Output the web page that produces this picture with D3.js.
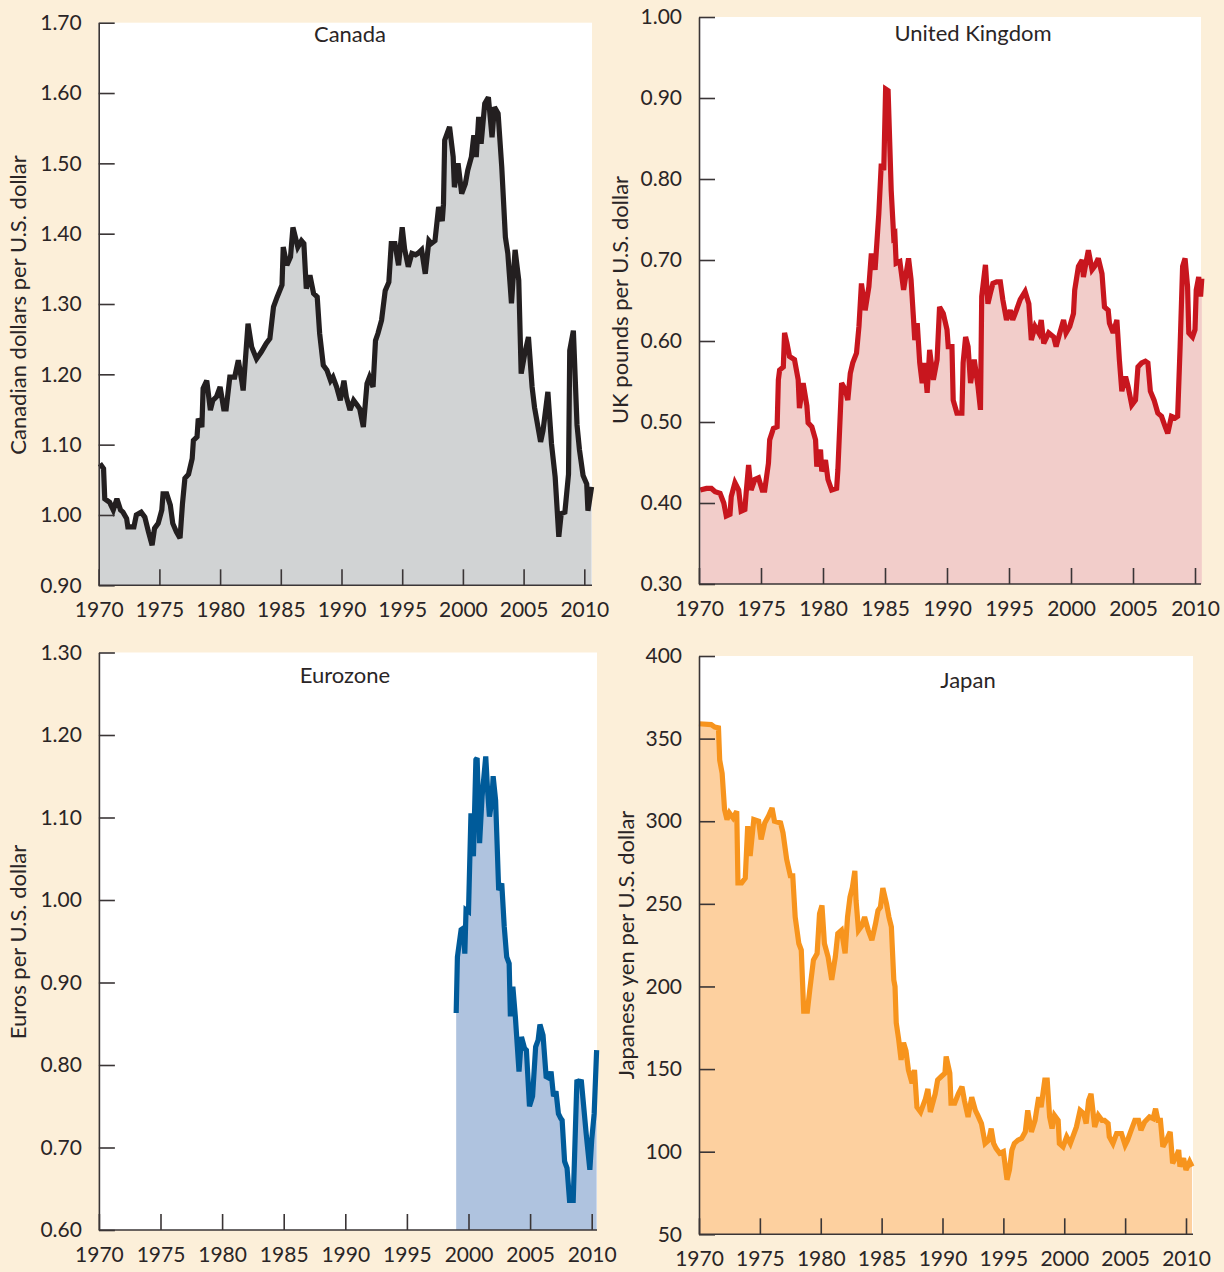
<!DOCTYPE html>
<html>
<head>
<meta charset="utf-8">
<script src="https://cdn.jsdelivr.net/npm/d3@7"></script>
<style>
  html, body { margin: 0; padding: 0; background: #fcefd9; }
  svg { display: block; }
  text { font-family: Lato, "Open Sans", sans-serif; fill: #2a2526; }
</style>
</head>
<body>
<svg id="chart" width="1224" height="1272"></svg>
<script>
// ---------------- DATA ----------------
const yearTicks = [1970, 1975, 1980, 1985, 1990, 1995, 2000, 2005, 2010];

const panelTitles = ["Canada", "United Kingdom", "Eurozone", "Japan"];
const axisTitles = [
  "Canadian dollars per U.S. dollar",
  "UK pounds per U.S. dollar",
  "Euros per U.S. dollar",
  "Japanese yen per U.S. dollar"
];

const canadaTicks = [0.90, 1.00, 1.10, 1.20, 1.30, 1.40, 1.50, 1.60, 1.70];
const ukTicks = [0.30, 0.40, 0.50, 0.60, 0.70, 0.80, 0.90, 1.00];
const euroTicks = [0.60, 0.70, 0.80, 0.90, 1.00, 1.10, 1.20, 1.30];
const japanTicks = [50, 100, 150, 200, 250, 300, 350, 400];

const canadaYears = [1970.1,1970.4,1970.5,1970.9,1971.2,1971.5,1971.8,1972.0,1972.3,1972.4,1972.9,1973.1,1973.5,1973.8,1974.1,1974.4,1974.6,1974.9,1975.2,1975.3,1975.6,1975.9,1976.1,1976.4,1976.7,1976.9,1977.1,1977.4,1977.7,1977.8,1978.1,1978.2,1978.5,1978.6,1978.9,1979.2,1979.4,1979.7,1980.0,1980.3,1980.5,1980.8,1981.2,1981.5,1981.8,1981.9,1982.3,1982.6,1983.0,1983.4,1983.8,1984.1,1984.4,1984.7,1985.1,1985.2,1985.5,1985.8,1986.0,1986.2,1986.4,1986.7,1986.9,1987.1,1987.4,1987.7,1988.0,1988.2,1988.5,1988.8,1989.1,1989.3,1989.6,1989.9,1990.2,1990.4,1990.7,1991.0,1991.3,1991.5,1991.8,1992.1,1992.3,1992.6,1992.8,1993.0,1993.3,1993.6,1993.9,1994.1,1994.4,1994.7,1995.0,1995.2,1995.5,1995.8,1996.1,1996.3,1996.6,1996.9,1997.2,1997.4,1997.7,1998.0,1998.3,1998.4,1998.5,1998.9,1999.2,1999.3,1999.6,1999.9,2000.2,2000.4,2000.7,2000.9,2001.1,2001.3,2001.5,2001.8,2002.1,2002.4,2002.6,2002.9,2003.2,2003.5,2003.7,2003.9,2004.0,2004.3,2004.6,2004.8,2005.1,2005.4,2005.7,2005.9,2006.4,2006.6,2007.0,2007.3,2007.6,2007.9,2008.1,2008.4,2008.7,2008.8,2009.1,2009.4,2009.6,2009.9,2010.2,2010.3,2010.6];
const canadaRates = [1.073,1.066,1.023,1.018,1.007,1.023,1.007,1.004,0.995,0.983,0.983,1.000,1.004,0.997,0.976,0.957,0.981,0.988,1.007,1.030,1.030,1.014,0.988,0.976,0.967,1.016,1.052,1.058,1.080,1.106,1.111,1.137,1.125,1.180,1.191,1.149,1.163,1.168,1.182,1.151,1.151,1.196,1.196,1.220,1.189,1.177,1.272,1.239,1.222,1.232,1.244,1.251,1.296,1.310,1.327,1.381,1.355,1.367,1.409,1.395,1.381,1.390,1.386,1.322,1.341,1.315,1.310,1.258,1.213,1.206,1.191,1.196,1.182,1.163,1.191,1.168,1.149,1.163,1.156,1.151,1.125,1.187,1.196,1.182,1.248,1.258,1.277,1.319,1.331,1.386,1.386,1.355,1.409,1.378,1.353,1.372,1.370,1.372,1.377,1.343,1.390,1.386,1.390,1.438,1.418,1.442,1.533,1.552,1.509,1.466,1.500,1.457,1.471,1.490,1.509,1.540,1.509,1.566,1.528,1.585,1.594,1.537,1.580,1.571,1.495,1.395,1.372,1.325,1.301,1.377,1.334,1.201,1.230,1.253,1.182,1.153,1.104,1.120,1.175,1.101,1.054,0.969,1.002,1.004,1.058,1.234,1.262,1.128,1.093,1.056,1.044,1.006,1.040];

const ukYears = [1970.1,1970.6,1971.0,1971.3,1971.7,1972.0,1972.2,1972.5,1972.6,1972.9,1973.2,1973.4,1973.7,1973.8,1974.0,1974.2,1974.5,1974.8,1975.1,1975.3,1975.6,1975.7,1976.0,1976.3,1976.4,1976.5,1976.8,1976.9,1977.1,1977.3,1977.7,1978.0,1978.1,1978.4,1978.7,1978.8,1979.1,1979.4,1979.5,1979.8,1979.9,1980.2,1980.4,1980.7,1981.1,1981.2,1981.5,1981.8,1982.0,1982.2,1982.4,1982.7,1982.9,1983.1,1983.4,1983.7,1983.9,1984.2,1984.5,1984.7,1984.9,1985.05,1985.25,1985.5,1985.7,1985.8,1985.9,1986.2,1986.5,1986.7,1986.9,1987.1,1987.3,1987.4,1987.6,1987.8,1988.0,1988.2,1988.4,1988.6,1988.9,1989.2,1989.4,1989.7,1990.0,1990.1,1990.4,1990.5,1990.8,1991.2,1991.3,1991.5,1991.7,1991.9,1992.2,1992.5,1992.7,1992.8,1993.1,1993.3,1993.5,1993.7,1994.0,1994.3,1994.5,1994.8,1995.1,1995.3,1995.6,1995.9,1996.3,1996.6,1996.8,1997.1,1997.4,1997.6,1997.8,1998.2,1998.6,1998.8,1999.1,1999.4,1999.6,1999.9,2000.2,2000.3,2000.6,2000.9,2001.0,2001.2,2001.4,2001.7,2001.9,2002.2,2002.5,2002.7,2003.0,2003.1,2003.4,2003.7,2003.9,2004.1,2004.4,2004.6,2004.9,2005.2,2005.4,2005.7,2006.0,2006.2,2006.4,2006.7,2007.0,2007.3,2007.6,2007.8,2008.1,2008.4,2008.6,2008.8,2009.0,2009.2,2009.4,2009.5,2009.8,2010.0,2010.1,2010.3,2010.45,2010.55];
const ukRates = [0.416,0.418,0.418,0.414,0.412,0.400,0.384,0.386,0.408,0.425,0.416,0.390,0.392,0.412,0.447,0.416,0.429,0.431,0.416,0.416,0.449,0.478,0.492,0.494,0.552,0.564,0.568,0.610,0.597,0.581,0.577,0.552,0.517,0.548,0.520,0.499,0.494,0.478,0.445,0.466,0.439,0.453,0.429,0.416,0.418,0.441,0.548,0.540,0.527,0.560,0.573,0.585,0.618,0.671,0.638,0.667,0.708,0.688,0.757,0.819,0.811,0.911,0.909,0.786,0.729,0.731,0.696,0.698,0.663,0.683,0.702,0.676,0.627,0.601,0.622,0.573,0.548,0.573,0.536,0.589,0.552,0.577,0.642,0.634,0.614,0.593,0.593,0.527,0.511,0.511,0.573,0.605,0.593,0.548,0.577,0.544,0.515,0.655,0.694,0.646,0.659,0.671,0.673,0.673,0.651,0.626,0.638,0.626,0.638,0.651,0.661,0.646,0.601,0.618,0.610,0.626,0.597,0.610,0.605,0.593,0.610,0.626,0.610,0.618,0.634,0.663,0.692,0.700,0.679,0.696,0.712,0.688,0.692,0.702,0.683,0.642,0.638,0.622,0.610,0.626,0.577,0.538,0.556,0.544,0.521,0.527,0.568,0.573,0.575,0.573,0.538,0.527,0.511,0.507,0.494,0.486,0.507,0.505,0.507,0.593,0.692,0.702,0.667,0.610,0.605,0.614,0.663,0.679,0.655,0.677];

const euroYears = [1999.0,1999.1,1999.4,1999.6,1999.7,1999.8,2000.0,2000.2,2000.4,2000.6,2000.7,2000.9,2001.1,2001.4,2001.55,2001.7,2001.9,2002.0,2002.2,2002.45,2002.7,2002.9,2003.1,2003.3,2003.4,2003.6,2003.8,2004.1,2004.3,2004.55,2004.7,2004.95,2005.2,2005.45,2005.65,2005.8,2006.05,2006.3,2006.55,2006.7,2006.9,2007.1,2007.3,2007.5,2007.6,2007.8,2008.0,2008.2,2008.5,2008.8,2009.0,2009.15,2009.3,2009.55,2009.85,2010.0,2010.2,2010.4];
const euroRates = [0.863,0.931,0.964,0.966,0.935,0.988,0.986,1.105,1.053,1.170,1.172,1.069,1.125,1.174,1.133,1.101,1.121,1.150,1.121,1.012,1.020,0.968,0.931,0.923,0.859,0.895,0.859,0.792,0.834,0.820,0.818,0.750,0.762,0.822,0.830,0.849,0.836,0.786,0.784,0.792,0.762,0.768,0.741,0.735,0.733,0.683,0.675,0.636,0.636,0.782,0.778,0.782,0.758,0.717,0.673,0.709,0.741,0.818];

const japanYears = [1970.0,1971.0,1971.3,1971.6,1971.7,1971.9,1972.1,1972.3,1972.5,1972.8,1973.1,1973.2,1973.5,1973.8,1974.0,1974.2,1974.5,1974.9,1975.1,1975.4,1975.7,1976.0,1976.2,1976.7,1976.9,1977.2,1977.5,1977.7,1977.9,1978.2,1978.4,1978.6,1978.9,1979.1,1979.4,1979.7,1979.9,1980.1,1980.3,1980.6,1980.9,1981.2,1981.4,1981.7,1982.0,1982.2,1982.4,1982.6,1982.8,1982.9,1983.1,1983.4,1983.6,1983.9,1984.2,1984.5,1984.7,1984.9,1985.1,1985.4,1985.6,1985.8,1986.0,1986.1,1986.2,1986.4,1986.6,1986.8,1987.0,1987.2,1987.5,1987.7,1987.9,1988.2,1988.6,1988.8,1989.0,1989.4,1989.6,1989.9,1990.2,1990.3,1990.6,1990.7,1991.0,1991.3,1991.6,1991.8,1992.1,1992.4,1992.7,1992.9,1993.2,1993.5,1993.8,1994.0,1994.2,1994.4,1994.7,1995.0,1995.3,1995.5,1995.7,1995.9,1996.2,1996.5,1996.8,1997.0,1997.3,1997.6,1997.9,1998.1,1998.4,1998.6,1998.8,1999.0,1999.2,1999.5,1999.6,1999.9,2000.2,2000.5,2000.7,2001.0,2001.3,2001.6,2001.8,2002.0,2002.2,2002.5,2002.8,2003.1,2003.3,2003.6,2003.7,2004.0,2004.3,2004.7,2005.0,2005.2,2005.5,2005.8,2006.1,2006.3,2006.6,2007.0,2007.3,2007.5,2007.7,2007.9,2008.1,2008.4,2008.7,2008.9,2009.2,2009.4,2009.5,2009.8,2010.0,2010.3,2010.5];
const japanRates = [359,358.5,357,356.5,337,329,307,301,305,302,306,262.6,262.6,265.6,297,279,301,300,289,299,303,308,300,299,293,277,267,267,242,226,222,185,185,198,216,220,244,249,226,218,204,218,232,234,220,242,254,260,270,252,234,237,242,234,228,238,246,248,259.5,250,242,236,204,200,178,168,155.5,166,161,149.5,141.4,149.5,127,124,132,138,124,135,143.4,145.5,147.5,157.6,147.5,129.3,129.3,135,139.4,131,121,133,125,122,117,105,107,114,105,102,99,100,83,89,101,105,107,108,112,125,112,119,133,127,143.4,143.4,121,114,122,119,105,103,109,105,109,115,125,123,117,131,135,115,122,119,119,117,109,105,111,111,104,107,113,119,119,113,118,121,120,126,119,119,103,107,112,93,97,101,91,96,89,94,91];

// ---------------- LAYOUT ----------------
const panels = [
  { years: canadaYears, rates: canadaRates, ticks: canadaTicks, title: panelTitles[0], ytitle: axisTitles[0],
    x0: 98.7, x1: 584.3, right: 592, top: 22.7, bottom: 585.3, fmt: ".2f",
    titleX: 350, titleY: 42, ytX: 26, ytY: 305,
    fill: "#d1d3d4", stroke: "#231f20" },
  { years: ukYears, rates: ukRates, ticks: ukTicks, title: panelTitles[1], ytitle: axisTitles[1],
    x0: 699, x1: 1195, right: 1201, top: 17, bottom: 584, fmt: ".2f",
    titleX: 973, titleY: 41, ytX: 628, ytY: 300,
    fill: "#f2cdca", stroke: "#c8161e" },
  { years: euroYears, rates: euroRates, ticks: euroTicks, title: panelTitles[2], ytitle: axisTitles[2],
    x0: 98.9, x1: 591.7, right: 597, top: 652.5, bottom: 1230, fmt: ".2f",
    titleX: 345, titleY: 683, ytX: 26, ytY: 942,
    fill: "#afc3df", stroke: "#005b9a" },
  { years: japanYears, rates: japanRates, ticks: japanTicks, title: panelTitles[3], ytitle: axisTitles[3],
    x0: 699, x1: 1186, right: 1193, top: 656, bottom: 1234.3, fmt: "d",
    titleX: 968, titleY: 688, ytX: 634, ytY: 945,
    fill: "#fdd09f", stroke: "#f7941d" }
];

const svg = d3.select("#chart");
const axisColor = "#3a3536";

panels.forEach(p => {
  const x = d3.scaleLinear().domain([1970, 2010]).range([p.x0, p.x1]);
  const y = d3.scaleLinear().domain([p.ticks[0], p.ticks[p.ticks.length - 1]]).range([p.bottom, p.top]);
  const g = svg.append("g");

  // white plot background
  g.append("rect")
    .attr("x", p.x0).attr("y", p.top)
    .attr("width", p.right - p.x0).attr("height", p.bottom - p.top)
    .attr("fill", "#ffffff");

  const data = p.years.map((yr, i) => ({ yr, v: p.rates[i] }));

  g.append("path")
    .datum(data)
    .attr("fill", p.fill)
    .attr("d", d3.area().x(d => x(d.yr)).y0(p.bottom).y1(d => y(d.v)));

  g.append("path")
    .datum(data)
    .attr("fill", "none")
    .attr("stroke", p.stroke)
    .attr("stroke-width", 5.2)
    .attr("stroke-linejoin", "miter")
    .attr("stroke-miterlimit", 3)
    .attr("d", d3.line().x(d => x(d.yr)).y(d => y(d.v)));

  // axes
  const yAxis = d3.axisLeft(y).tickValues(p.ticks).tickFormat(d3.format(p.fmt))
    .tickSize(-16).tickSizeOuter(0).tickPadding(17);
  const yg = g.append("g").attr("transform", `translate(${p.x0},0)`).call(yAxis);

  const xAxis = d3.axisBottom(x).tickValues(yearTicks).tickFormat(d3.format("d"))
    .tickSize(-16).tickSizeOuter(0).tickPadding(17);
  const xg = g.append("g").attr("transform", `translate(0,${p.bottom})`).call(xAxis);

  [yg, xg].forEach(a => {
    a.select(".domain").attr("stroke", axisColor).attr("stroke-width", 1.6);
    a.selectAll(".tick line").attr("stroke", axisColor).attr("stroke-width", 1.6);
    a.selectAll(".tick text")
      .style("font-family", "Lato, 'Open Sans', sans-serif")
      .style("font-size", "21px").attr("fill", "#2a2526");
  });
  // x-axis line runs to plot right edge
  xg.select(".domain").attr("d", `M${p.x0},0H${p.right}`);

  // panel title
  g.append("text")
    .attr("x", p.titleX).attr("y", p.titleY)
    .attr("text-anchor", "middle")
    .style("font-size", "22px")
    .text(p.title);

  // y-axis title
  g.append("text")
    .attr("transform", `translate(${p.ytX},${p.ytY}) rotate(-90)`)
    .attr("text-anchor", "middle")
    .style("font-size", "22px")
    .text(p.ytitle);
});
</script>
</body>
</html>
